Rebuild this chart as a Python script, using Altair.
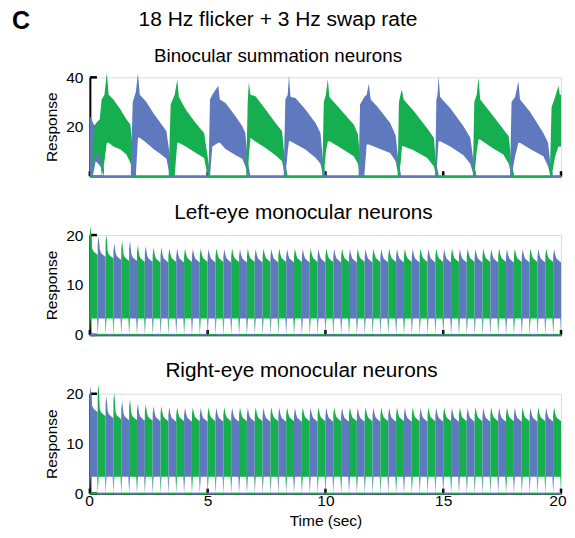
import altair as alt
import pandas as pd

GREEN = "#16AF4F"
BLUE = "#5F79BE"
FONT = "Liberation Sans"

# ---------------- data ----------------
SWAP_RATE = 3          # eye swaps per second (block length 1/3 s)
N_BLOCKS = 60
X_TICKS = [0, 5, 10, 15, 20]

# Left-eye monocular panel: first block green
LEFT_PEAK = [21.8, 19.8, 20.1, 18.3, 18.8, 18.8, 18.0, 17.8, 17.5, 17.5, 17.3, 17.3,
             17.3, 17.2, 17.3, 17.2, 17.3, 17.2, 17.3, 17.2, 17.3, 17.2, 17.3, 17.2,
             17.3, 17.2, 17.3, 17.2, 17.3, 17.2, 17.3, 17.2, 17.3, 17.2, 17.3, 17.2,
             17.3, 17.2, 17.3, 17.2, 17.3, 17.2, 17.3, 17.2, 17.3, 17.2, 17.3, 17.2,
             17.3, 17.2, 17.3, 17.2, 17.3, 17.2, 17.3, 17.2, 17.3, 17.2, 17.3, 17.2]
LEFT_TOP = [16.5, 16.1, 15.8, 15.5, 15.3, 15.3, 15.1, 15.1, 15.0, 15.0, 15.1, 15.0,
            15.1, 15.0, 15.1, 15.0, 15.1, 15.0, 15.1, 15.0, 15.1, 15.0, 15.1, 15.0,
            15.1, 15.0, 15.1, 15.0, 15.1, 15.0, 15.1, 15.0, 15.1, 15.0, 15.1, 15.0,
            15.1, 15.0, 15.1, 15.0, 15.1, 15.0, 15.1, 15.0, 15.1, 15.0, 15.1, 15.0,
            15.1, 15.0, 15.1, 15.0, 15.1, 15.0, 15.1, 15.0, 15.1, 15.0, 15.1, 15.0]
LEFT_LOW = 3.3

# Right-eye monocular panel: first block blue
RIGHT_PEAK = [21.5, 21.9, 19.5, 20.2, 18.5, 18.9, 18.0, 17.9, 17.5, 17.5, 17.3, 17.3,
              17.2, 17.3, 17.2, 17.3, 17.2, 17.3, 17.2, 17.3, 17.2, 17.3, 17.2, 17.3,
              17.2, 17.3, 17.2, 17.3, 17.2, 17.3, 17.2, 17.3, 17.2, 17.3, 17.2, 17.3,
              17.2, 17.3, 17.2, 17.3, 17.2, 17.3, 17.2, 17.3, 17.2, 17.3, 17.2, 17.3,
              17.2, 17.3, 17.2, 17.3, 17.2, 17.3, 17.2, 17.3, 17.2, 17.3, 17.2, 17.3]
RIGHT_TOP = [16.8, 16.0, 15.6, 15.4, 15.2, 15.2, 15.1, 15.1, 15.0, 15.0, 14.9, 15.0,
             14.9, 15.0, 14.9, 15.0, 14.9, 15.0, 14.9, 15.0, 14.9, 15.0, 14.9, 15.0,
             14.9, 15.0, 14.9, 15.0, 14.9, 15.0, 14.9, 15.0, 14.9, 15.0, 14.9, 15.0,
             14.9, 15.0, 14.9, 15.0, 14.9, 15.0, 14.9, 15.0, 14.9, 15.0, 14.9, 15.0,
             14.9, 15.0, 14.9, 15.0, 14.9, 15.0, 14.9, 15.0, 14.9, 15.0, 14.9, 15.0]
RIGHT_LOW = 3.4

# Binocular summation panel: envelope vertices of each response burst
BINO_COLOR = ["B", "G", "B", "G", "B", "G", "B", "G", "B", "G", "B", "G", "B", "G"]
BINO_T = [
    [0.00, 0.12, 0.25, 0.45, 0.60],
    [0.12, 0.22, 0.42, 0.50, 0.62, 0.72, 0.80, 1.00, 1.30, 1.55, 1.72, 1.85, 1.95],
    [1.74, 1.82, 1.95, 2.04, 2.12, 2.40, 2.70, 3.00, 3.25, 3.40, 3.50],
    [3.35, 3.43, 3.60, 3.71, 3.78, 4.07, 4.49, 4.85, 5.00, 5.10],
    [5.04, 5.10, 5.20, 5.45, 5.52, 5.76, 6.19, 6.47, 6.60, 6.72, 6.80],
    [6.64, 6.70, 6.75, 6.82, 7.03, 7.46, 7.88, 8.16, 8.28, 8.38],
    [8.23, 8.30, 8.40, 8.45, 8.52, 8.73, 9.15, 9.58, 9.79, 9.90, 10.00],
    [9.87, 9.93, 10.02, 10.10, 10.17, 10.64, 11.20, 11.38, 11.48, 11.58],
    [11.41, 11.47, 11.65, 11.75, 11.84, 11.92, 12.19, 12.75, 12.98, 13.10, 13.20],
    [13.07, 13.12, 13.20, 13.25, 13.32, 13.74, 14.31, 14.60, 14.70, 14.80],
    [14.66, 14.71, 14.76, 14.80, 14.87, 15.30, 15.86, 16.15, 16.30, 16.40],
    [16.26, 16.32, 16.42, 16.50, 16.57, 16.99, 17.55, 17.78, 17.90, 18.00],
    [17.84, 17.90, 18.05, 18.19, 18.26, 18.69, 19.25, 19.45, 19.55, 19.65],
    [19.53, 19.60, 19.75, 19.89, 19.95, 20.00],
]
BINO_HI = [
    [24.5, 22.0, 19.0, 15.0, 3.0],
    [14.0, 21.0, 23.0, 31.0, 33.0, 42.0, 33.0, 31.0, 27.0, 23.0, 20.9, 8.0, 1.0],
    [2.0, 30.0, 34.0, 41.7, 33.0, 30.0, 25.5, 21.5, 18.2, 8.0, 1.0],
    [2.0, 29.0, 33.0, 39.0, 32.0, 27.0, 21.5, 17.5, 8.0, 1.0],
    [2.0, 31.0, 33.0, 36.6, 31.0, 29.6, 24.2, 20.2, 17.5, 5.0, 1.0],
    [2.0, 30.0, 38.0, 33.0, 32.3, 27.0, 21.5, 18.2, 6.0, 1.0],
    [2.0, 31.0, 33.0, 40.7, 32.0, 31.6, 27.0, 21.5, 17.5, 6.0, 1.0],
    [2.0, 30.0, 33.0, 39.3, 32.0, 27.0, 20.9, 17.0, 6.0, 1.0],
    [2.0, 29.0, 32.0, 33.0, 37.4, 31.0, 28.3, 21.5, 16.5, 6.0, 1.0],
    [2.0, 30.0, 33.6, 35.0, 31.0, 26.5, 19.5, 15.5, 5.0, 1.0],
    [2.0, 31.0, 33.0, 40.4, 32.0, 27.5, 20.2, 15.5, 5.0, 1.0],
    [2.0, 30.0, 33.0, 39.7, 31.0, 26.0, 19.0, 16.2, 5.0, 1.0],
    [2.0, 30.0, 32.0, 38.4, 31.0, 26.0, 17.5, 13.5, 5.0, 1.0],
    [2.0, 28.0, 32.0, 36.6, 33.0, 33.0],
]
BINO_LO = [
    [0.0, 0.0, 6.0, 4.0, 0.0],
    [0.0, 8.0, 10.0, 0.0, 6.0, 13.5, 13.5, 12.0, 10.8, 8.8, 5.4, 0.0, 0.0],
    [0.0, 0.0, 0.0, 15.5, 15.5, 13.5, 11.0, 9.0, 7.0, 0.0, 0.0],
    [0.0, 0.0, 0.0, 13.5, 13.5, 12.0, 9.5, 7.4, 0.0, 0.0],
    [0.0, 0.0, 12.0, 13.5, 13.5, 11.0, 8.5, 7.0, 4.0, 0.0, 0.0],
    [0.0, 0.0, 8.0, 15.5, 14.0, 11.4, 8.5, 6.0, 0.0, 0.0],
    [0.0, 0.0, 10.0, 14.1, 14.1, 13.0, 10.8, 7.5, 5.0, 0.0, 0.0],
    [0.0, 0.0, 10.0, 14.0, 14.1, 11.5, 8.1, 5.0, 0.0, 0.0],
    [0.0, 0.0, 0.0, 12.8, 12.8, 12.5, 11.5, 9.4, 6.0, 0.0, 0.0],
    [0.0, 0.0, 6.0, 12.1, 12.1, 10.5, 7.5, 4.0, 0.0, 0.0],
    [0.0, 0.0, 8.0, 14.1, 14.1, 12.0, 8.5, 5.0, 0.0, 0.0],
    [0.0, 0.0, 10.0, 14.8, 14.8, 12.0, 8.8, 5.0, 0.0, 0.0],
    [0.0, 0.0, 8.0, 13.5, 13.5, 11.0, 8.1, 4.0, 0.0, 0.0],
    [0.0, 0.0, 8.0, 12.0, 12.0, 12.0],
]


def other(c):
    return "B" if c == "G" else "G"


def mono_tables(peaks, tops, low, first):
    rows, base = [], []
    for k in range(N_BLOCKS):
        t0 = k / SWAP_RATE
        t1 = (k + 1) / SWAP_RATE
        c = first if k % 2 == 0 else other(first)
        p, q = peaks[k], tops[k]
        verts = [(t0, 0.0, p - 1.5), (t0 + 0.04, low, p), (t0 + 0.09, low, q + 1.0),
                 (t0 + 0.14, low, q + 0.3), (t1 - 0.03, low, q - 0.4), (t1, 0.0, q - 0.4)]
        for t, lo, hi in verts:
            rows.append({"t": t, "lo": lo, "hi": hi, "id": f"b{k}", "c": c})
        base.append({"t": t0, "t2": t1, "hi": 0.0, "c": other(c)})
    return pd.DataFrame(rows), pd.DataFrame(base)


def bino_tables():
    rows, base = [], []
    for k, c in enumerate(BINO_COLOR):
        for t, hi, lo in zip(BINO_T[k], BINO_HI[k], BINO_LO[k]):
            rows.append({"t": t, "lo": lo, "hi": hi, "id": f"b{k}", "c": c})
        base.append({"t": BINO_T[k][0], "t2": BINO_T[k][-1], "hi": 0.0, "c": other(c)})
    return pd.DataFrame(rows), pd.DataFrame(base)


def panel(area_df, base_df, ydom, yvals, title, bottom, xtick_len, height, extra=None):
    x_axis = alt.Axis(values=X_TICKS, labels=bottom, ticks=False, tickSize=0,
                      domain=True, domainColor="black", domainWidth=1.5, grid=False,
                      labelFontSize=15.5, labelPadding=0, labelColor="black",
                      labelFlush=True, labelFlushOffset=5, labelFont=FONT, titleFont=FONT,
                      titleFontSize=15.5, titleFontWeight="normal", titlePadding=4,
                      titleColor="black")
    x_enc = alt.X("t:Q", scale=alt.Scale(domain=[0, 20], nice=False, zero=False),
                  axis=x_axis, title="Time (sec)" if bottom else None)
    y_enc = alt.Y("hi:Q", scale=alt.Scale(domain=ydom, nice=False), stack=None,
                  axis=alt.Axis(values=yvals, ticks=False, tickSize=0, grid=False,
                                domainColor="black", domainWidth=2,
                                labelFont=FONT, titleFont=FONT,
                                labelFontSize=15.5, labelPadding=7, labelColor="black",
                                titleFontSize=15.5, titleFontWeight="normal",
                                titlePadding=6, titleColor="black"),
                  title="Response")
    col = alt.Color("c:N", scale=alt.Scale(domain=["G", "B"], range=[GREEN, BLUE]),
                    legend=None)

    ytk = pd.DataFrame({"t": [0.0] * len(yvals), "t2": [0.3] * len(yvals),
                        "hi": [float(v) for v in yvals]})
    xtk = pd.DataFrame({"t": [float(v) for v in X_TICKS], "hi": [xtick_len] * len(X_TICKS),
                        "lo": [0.0] * len(X_TICKS)})

    ytick_layer = alt.Chart(ytk).mark_rule(color="black", strokeWidth=2.5).encode(
        x=x_enc, x2="t2:Q", y=y_enc)
    xtick_layer = alt.Chart(xtk).mark_rule(color="black", strokeWidth=2.5).encode(
        x=x_enc, y=y_enc, y2="lo:Q")
    area_layer = alt.Chart(area_df).mark_area(opacity=1, interpolate="linear").encode(
        x=x_enc, y=y_enc, y2="lo:Q", color=col, detail="id:N")
    base_layer = alt.Chart(base_df).mark_rule(strokeWidth=2).encode(
        x=x_enc, x2="t2:Q", y=y_enc, color=col)

    layers = [ytick_layer, xtick_layer, area_layer, base_layer]
    if extra is not None:
        layers.append(extra)
    return alt.layer(*layers).properties(width=472, height=height, title=title)


bino_df, bino_base = bino_tables()
left_df, left_base = mono_tables(LEFT_PEAK, LEFT_TOP, LEFT_LOW, "G")
right_df, right_base = mono_tables(RIGHT_PEAK, RIGHT_TOP, RIGHT_LOW, "B")

c_label = alt.Chart(pd.DataFrame({"label": ["C"]})).mark_text(
    font=FONT, fontSize=25, fontWeight="bold", align="left", baseline="alphabetic",
    color="black").encode(text="label:N", x=alt.value(-78), y=alt.value(-48))

t1 = alt.TitleParams(text="18 Hz flicker + 3 Hz swap rate",
                     subtitle="Binocular summation neurons",
                     fontSize=21, subtitleFontSize=18.8, fontWeight="normal",
                     font=FONT, subtitleFont=FONT, color="black", subtitleColor="black",
                     anchor="middle", frame="group", dx=-47.5, offset=-56,
                     subtitlePadding=16.4)
t2 = alt.TitleParams(text="Left-eye monocular neurons", fontSize=20.8, fontWeight="normal",
                     font=FONT, color="black", anchor="middle", frame="group", dx=-22,
                     offset=2)
t3 = alt.TitleParams(text="Right-eye monocular neurons", fontSize=20.8, fontWeight="normal",
                     font=FONT, color="black", anchor="middle", frame="group", dx=-24,
                     offset=3)

p1 = panel(bino_df, bino_base, [0, 40], [20, 40], t1, False, 2.0, 99, extra=c_label)
p2 = panel(left_df, left_base, [0, 20], [0, 10, 20], t2, False, 1.0, 100)
p3 = panel(right_df, right_base, [0, 20], [0, 10, 20], t3, True, 1.0, 100)

chart = alt.vconcat(p1, p2, p3, spacing=59, bounds="flush").properties(
    padding={"left": 3, "top": 0, "right": 0, "bottom": 0}
).configure_view(stroke=None).configure(font=FONT)

chart.save("out.html", embed_options={"renderer": "svg", "actions": False})
